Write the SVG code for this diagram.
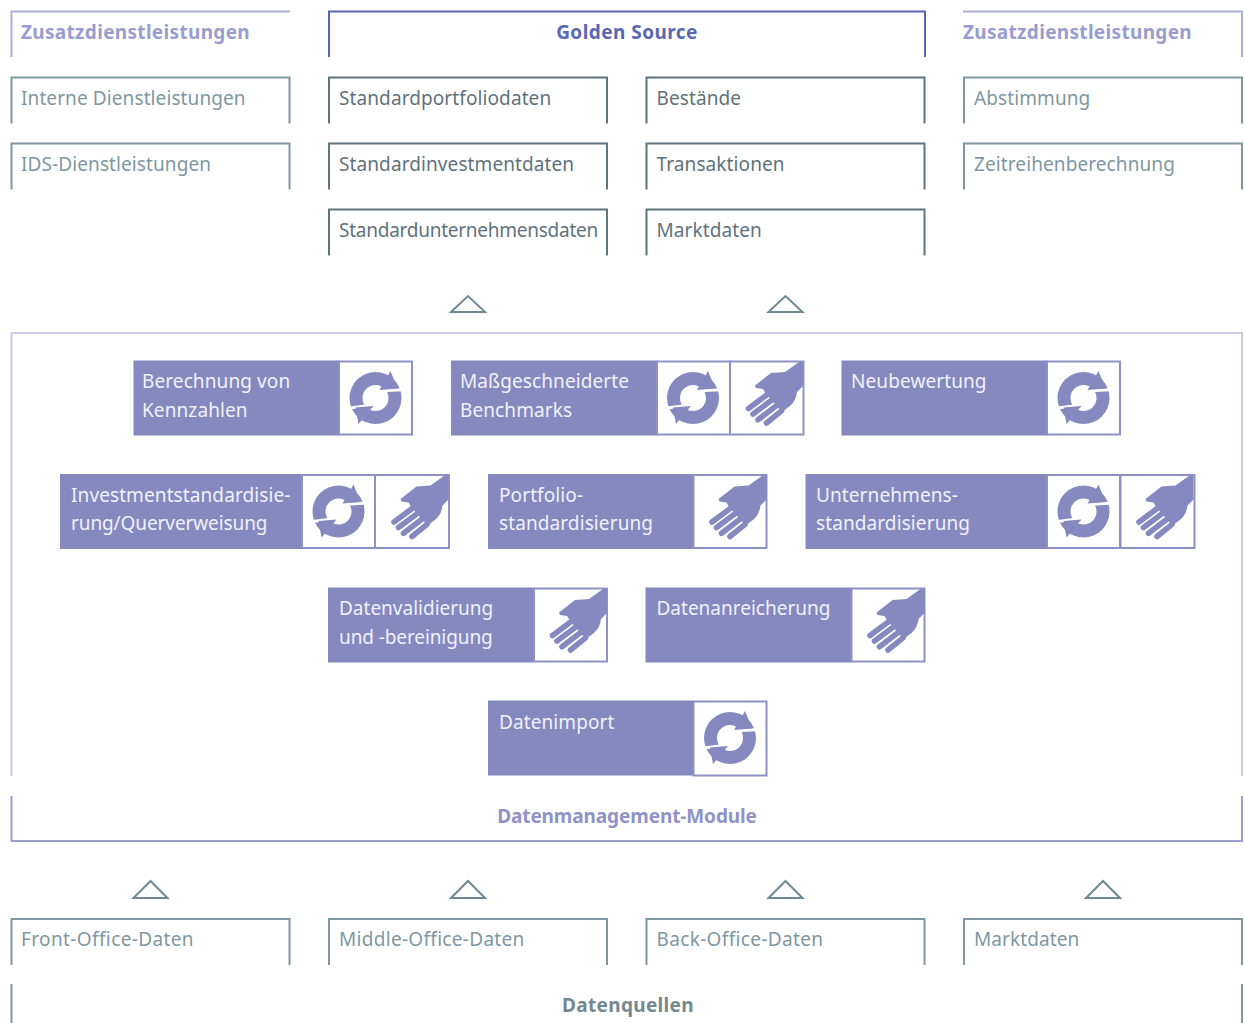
<svg xmlns="http://www.w3.org/2000/svg" xmlns:xlink="http://www.w3.org/1999/xlink" width="1245" height="1023" viewBox="0 0 1245 1023">
<style>
text{font-family:"Noto Sans","Open Sans",sans-serif;font-size:19px;letter-spacing:.1px}
.b{font-weight:700;letter-spacing:.32px}
.o{fill:none;stroke-width:2}
.lp{stroke:#aeb0dc}.gs{stroke:#5a68b4}.d{stroke:#5f747e}.l{stroke:#7f97a1}
.tlp{fill:#9a9cd0}.tgs{fill:#5a68b4}.td{fill:#5f727c}.tl{fill:#7f97a1}
.tm{fill:#f1f1fa}
.m{fill:#8589c0}.c{fill:#fff;stroke:#8f91c6;stroke-width:2}
.tri{fill:#fff;stroke:#6f8892;stroke-width:2}
</style>
<defs>
<g id="refresh">
<path fill="#8589c0" fill-rule="evenodd" d="M-26 0a26 26 0 1 0 52 0a26 26 0 1 0-52 0zM-13 0a13 13 0 1 1 26 0a13 13 0 1 1-26 0z"/>
<path stroke="#fff" stroke-width="3" fill="none" d="M30 -8.500L3-7M-30 10.500L-2 7"/>
<path fill="#8589c0" d="M15-27L22-9.500L4-8ZM-20 9.500L-2 8L-17 26Z"/>
</g>
<g id="hand">
<path fill="#8589c0" d="M69 1L73 1V25L67 31Q66 40 60 45L52 51L36 33L33 28L26 27L25 24.500L41 12L55 11Z"/>
<path stroke="#8589c0" stroke-width="5.600" stroke-linecap="round" fill="none" d="M38 33L18.500 47.500M42.500 38.600L23 53M47 44.200L28 58.700M51.500 49.800L36.500 62"/>
</g>
</defs>
<g id="connectors">
<path class="tri" d="M451 312L468 296L485 312Z"/>
<path class="tri" d="M768.500 312L785.500 296L802.500 312Z"/>
<path class="tri" d="M133.500 898L150.500 881L167.500 898Z"/>
<path class="tri" d="M451 898L468 881L485 898Z"/>
<path class="tri" d="M768.500 898L785.500 881L802.500 898Z"/>
<path class="tri" d="M1086 898L1103 881L1120 898Z"/>
</g>
<g id="frames">
<path class="o" stroke="#c9cbe8" d="M11.500 776V333H1242V776"/>
<path class="o" stroke="#9c9ed0" d="M11.500 796V841H1242V796"/>
<path class="o l" d="M11.500 984V1023M1242 984V1023"/>
</g>
<g id="zusatz-left"><path class="o lp" d="M11.500 57V11.500H290"/><text class="b tlp" x="21" y="39">Zusatzdienstleistungen</text></g>
<g id="golden-source"><path class="o gs" d="M329 57V11.500H925V57"/><text class="b tgs" style="letter-spacing:.45px" x="627" y="39" text-anchor="middle">Golden Source</text></g>
<g id="zusatz-right"><path class="o lp" d="M963 11.500H1242V57"/><text class="b tlp" x="963" y="39">Zusatzdienstleistungen</text></g>
<g id="interne"><path class="o l" d="M11.500 123.500V77.500H289.500V123.500"/><text class="tl" x="21" y="105">Interne Dienstleistungen</text></g>
<g id="ids"><path class="o l" d="M11.500 189.500V143.500H289.500V189.500"/><text class="tl" x="21" y="171">IDS-Dienstleistungen</text></g>
<g id="portfolio-daten"><path class="o d" d="M329 123.500V77.500H607V123.500"/><text class="td" x="339" y="105">Standardportfoliodaten</text></g>
<g id="investment-daten"><path class="o d" d="M329 189.500V143.500H607V189.500"/><text class="td" x="339" y="171">Standardinvestmentdaten</text></g>
<g id="unternehmens-daten"><path class="o d" d="M329 255.500V209.500H607V255.500"/><text class="td" style="letter-spacing:-.25px" x="339" y="237">Standardunternehmensdaten</text></g>
<g id="bestaende"><path class="o d" d="M646.500 123.500V77.500H924.500V123.500"/><text class="td" x="656.500" y="105">Bestände</text></g>
<g id="transaktionen"><path class="o d" d="M646.500 189.500V143.500H924.500V189.500"/><text class="td" x="656.500" y="171">Transaktionen</text></g>
<g id="marktdaten-top"><path class="o d" d="M646.500 255.500V209.500H924.500V255.500"/><text class="td" x="656.500" y="237">Marktdaten</text></g>
<g id="abstimmung"><path class="o l" d="M964 123.500V77.500H1242V123.500"/><text class="tl" x="974" y="105">Abstimmung</text></g>
<g id="zeitreihen"><path class="o l" d="M964 189.500V143.500H1242V189.500"/><text class="tl" x="974" y="171">Zeitreihenberechnung</text></g>

<g id="berechnung"><rect class="m" x="133.500" y="360.500" width="206" height="75"/><rect class="c" x="339" y="361.500" width="73" height="73"/><use href="#refresh" x="375.500" y="398"/><text class="tm" x="142" y="388">Berechnung von</text><text class="tm" x="142" y="417">Kennzahlen</text></g>
<g id="benchmarks"><rect class="m" x="451" y="360.500" width="206" height="75"/><rect class="c" x="657" y="361.500" width="73" height="73"/><rect class="c" x="730" y="361.500" width="73.500" height="73"/><use href="#refresh" x="693" y="398"/><use href="#hand" x="730" y="361"/><text class="tm" x="460" y="388">Maßgeschneiderte</text><text class="tm" x="460" y="417">Benchmarks</text></g>
<g id="neubewertung"><rect class="m" x="841.500" y="360.500" width="206" height="75"/><rect class="c" x="1047" y="361.500" width="73" height="73"/><use href="#refresh" x="1083.500" y="398"/><text class="tm" x="851" y="388">Neubewertung</text></g>

<g id="investment"><rect class="m" x="60" y="474" width="243" height="75"/><rect class="c" x="302" y="475" width="73" height="73"/><rect class="c" x="375" y="475" width="74" height="73"/><use href="#refresh" x="338.500" y="511.500"/><use href="#hand" x="375.500" y="474.500"/><text class="tm" x="71" y="502">Investmentstandardisie-</text><text class="tm" style="letter-spacing:-.1px" x="71" y="530">rung/Querverweisung</text></g>
<g id="portfolio"><rect class="m" x="488" y="474" width="206" height="75"/><rect class="c" x="693.500" y="475" width="73" height="73"/><use href="#hand" x="693.500" y="474.500"/><text class="tm" x="499" y="502">Portfolio-</text><text class="tm" x="499" y="530">standardisierung</text></g>
<g id="unternehmen"><rect class="m" x="805.500" y="474" width="242" height="75"/><rect class="c" x="1047" y="475" width="73" height="73"/><rect class="c" x="1120.500" y="475" width="74" height="73"/><use href="#refresh" x="1083.500" y="511.500"/><use href="#hand" x="1120.500" y="474.500"/><text class="tm" x="816" y="502">Unternehmens-</text><text class="tm" x="816" y="530">standardisierung</text></g>

<g id="validierung"><rect class="m" x="328" y="587.500" width="206" height="75"/><rect class="c" x="534" y="588.500" width="73" height="73"/><use href="#hand" x="534" y="588"/><text class="tm" style="letter-spacing:0" x="339" y="615">Datenvalidierung</text><text class="tm" style="letter-spacing:-.1px" x="339" y="644">und -bereinigung</text></g>
<g id="anreicherung"><rect class="m" x="645.500" y="587.500" width="206" height="75"/><rect class="c" x="851.500" y="588.500" width="73" height="73"/><use href="#hand" x="851.500" y="588"/><text class="tm" style="letter-spacing:0" x="656.500" y="615">Datenanreicherung</text></g>
<g id="import"><rect class="m" x="488" y="700.500" width="206" height="75"/><rect class="c" x="693.500" y="701.500" width="73" height="74"/><use href="#refresh" x="730" y="738"/><text class="tm" x="499" y="729">Datenimport</text></g>

<g id="modules-label"><text class="b" style="letter-spacing:-.1px" fill="#9092c8" x="627" y="823" text-anchor="middle">Datenmanagement-Module</text></g>
<g id="front"><path class="o l" d="M11.500 965V919H289.500V965"/><text class="tl" style="letter-spacing:.38px" x="21" y="946">Front-Office-Daten</text></g>
<g id="middle"><path class="o l" d="M329 965V919H607V965"/><text class="tl" style="letter-spacing:.3px" x="339" y="946">Middle-Office-Daten</text></g>
<g id="back"><path class="o l" d="M646.500 965V919H924.500V965"/><text class="tl" style="letter-spacing:.34px" x="656.500" y="946">Back-Office-Daten</text></g>
<g id="markt"><path class="o l" d="M964 965V919H1242V965"/><text class="tl" x="974" y="946">Marktdaten</text></g>
<g id="quellen-label"><text class="b" fill="#74878f" x="628" y="1012" text-anchor="middle">Datenquellen</text></g>
</svg>
